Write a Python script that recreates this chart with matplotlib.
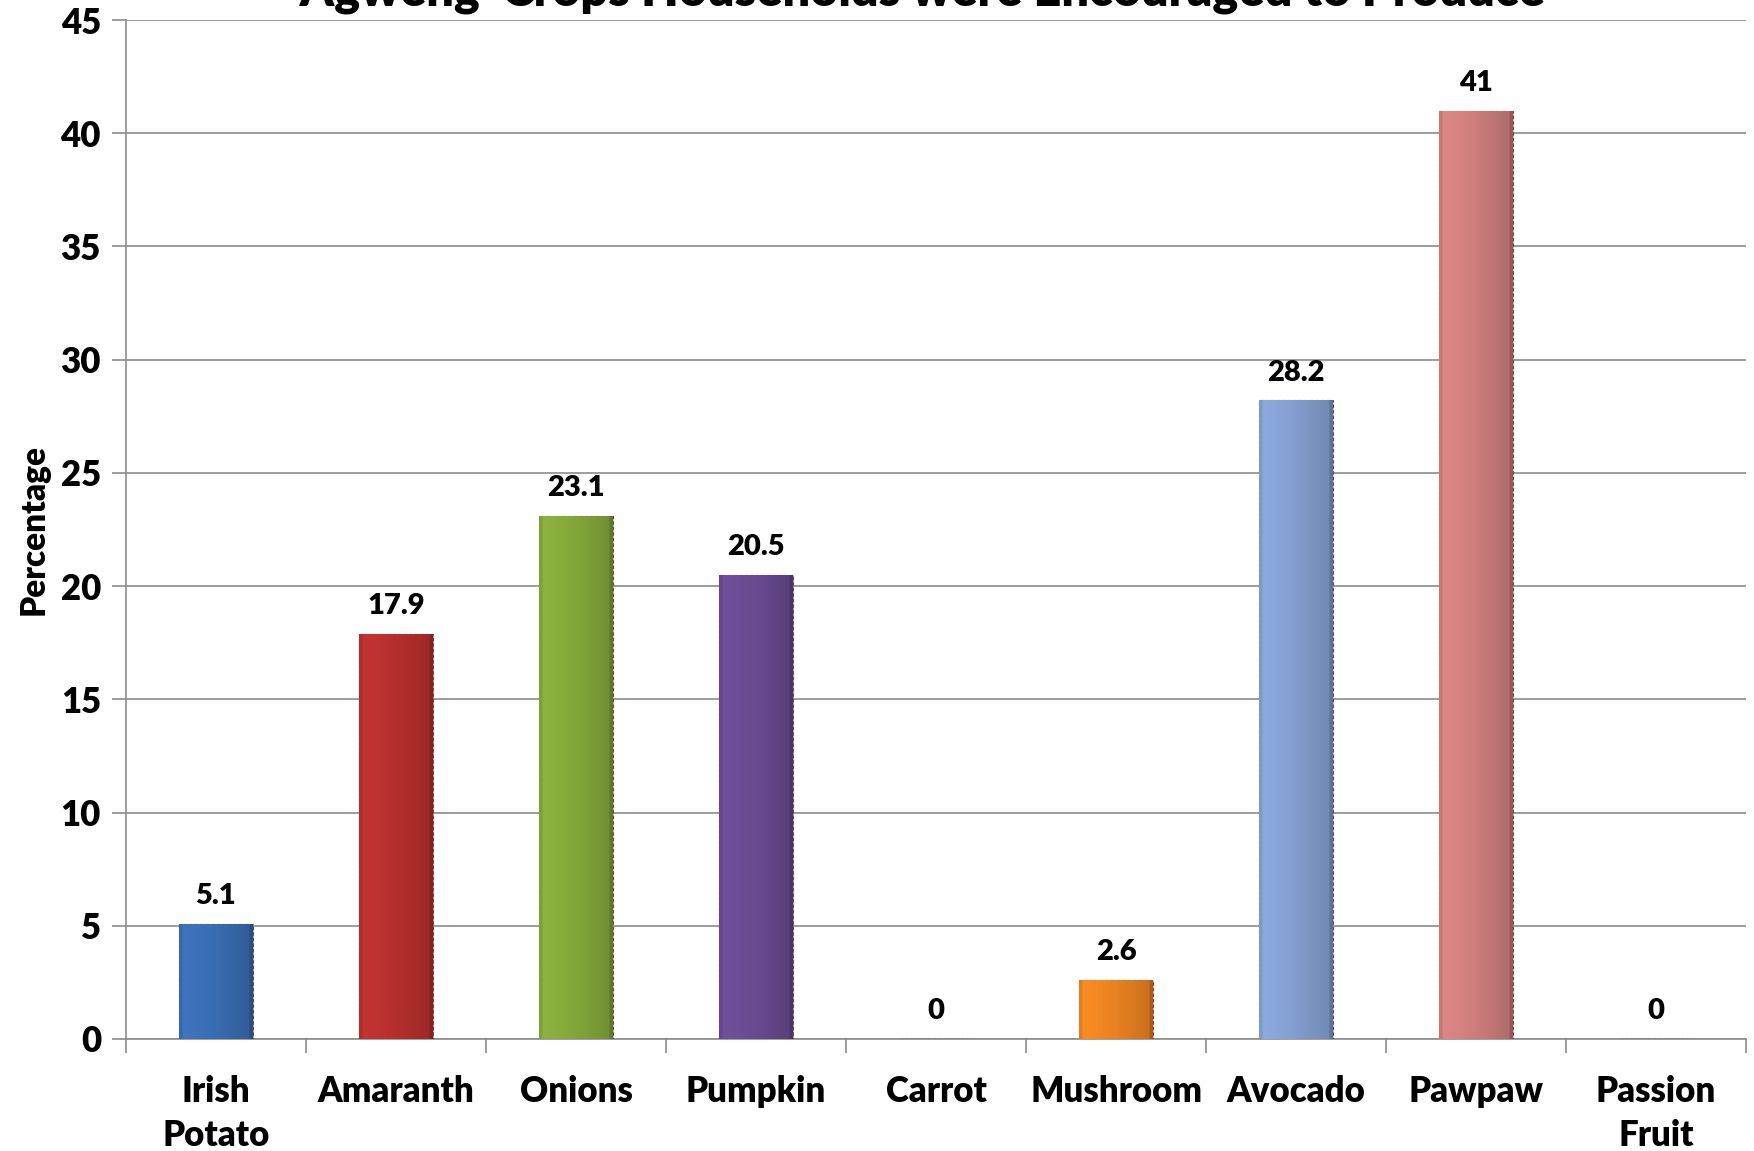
import numpy as np
import matplotlib
matplotlib.use("Agg")
import matplotlib.pyplot as plt
from matplotlib.colors import to_rgb

categories = ["Irish\nPotato", "Amaranth", "Onions", "Pumpkin", "Carrot",
              "Mushroom", "Avocado", "Pawpaw", "Passion\nFruit"]
values = [5.1, 17.9, 23.1, 20.5, 0, 2.6, 28.2, 41, 0]
value_labels = ["5.1", "17.9", "23.1", "20.5", "0", "2.6", "28.2", "41", "0"]
colors = ["#3A6FB5", "#B9312E", "#86AA3C", "#6A4C93", "#4BA3C3",
          "#EE8522", "#86A2D4", "#D2807F", "#8BB0DE"]
yticks = [0, 5, 10, 15, 20, 25, 30, 35, 40, 45]
title = "'Agweng' Crops Households were Encouraged to Produce"

plt.rcParams['font.family'] = ['Lato', 'DejaVu Sans']
plt.rcParams['font.weight'] = 'bold'

fig = plt.figure(figsize=(17.54, 11.51), dpi=100)
ax = fig.add_axes([126/1754, 1-1039/1151, 1620/1754, 1019/1151])

x = np.arange(len(categories))
bars = ax.bar(x, values, width=0.41, color=colors, zorder=3,
              edgecolor="#7a3a4a", linewidth=0.8, linestyle=(0, (3, 2)))

# bevel-like horizontal shading on each bar
for b, c in zip(bars, colors):
    h = b.get_height()
    if h <= 0:
        continue
    base = np.array(to_rgb(c))
    t = np.linspace(0, 1, 64)
    shade = 1.05 - 0.22 * t ** 1.5
    shade[:3] *= 0.9
    shade[-3:] *= 0.85
    img = np.clip(base[None, :] * shade[:, None], 0, 1)[None, :, :]
    x0 = b.get_x()
    w = b.get_width()
    im = ax.imshow(img, extent=[x0, x0 + w, 0, h], aspect='auto', zorder=3.5,
                   interpolation='bilinear')
    im.set_clip_path(b)

for xi, v, lab in zip(x, values, value_labels):
    ax.text(xi, v + 0.65, lab, ha='center', va='bottom', fontsize=21,
            fontweight='heavy', color='black', zorder=5)

ax.set_xlim(-0.5, len(categories) - 0.5)
ax.set_ylim(0, 45)
ax.set_yticks(yticks)
ax.set_yticklabels([str(t) for t in yticks], fontsize=25, fontweight='heavy')
ax.yaxis.grid(True, color="#8c8c8c", linewidth=1.2, zorder=0)
ax.set_axisbelow(True)

ax.set_xticks(x)
ax.set_xticklabels(categories, fontsize=25, fontweight='heavy', linespacing=1.4)
ax.tick_params(axis='x', length=0, pad=26)
ax.set_xticks(np.arange(-0.5, len(categories)), minor=True)
ax.tick_params(axis='x', which='minor', length=10, color="#8c8c8c", width=1.2)
ax.tick_params(axis='y', length=10, color="#8c8c8c", width=1.2, pad=8)

for s in ['top', 'right']:
    ax.spines[s].set_visible(False)
for s in ['left', 'bottom']:
    ax.spines[s].set_color("#8c8c8c")
    ax.spines[s].set_linewidth(1.2)

ax.set_ylabel("Percentage", fontsize=24, fontweight='heavy', labelpad=8)

fig.text(917/1754, 1 - 6/1151, title, ha='center', va='baseline',
         fontsize=35, fontweight='heavy')

fig.savefig("out.png", dpi=100)
